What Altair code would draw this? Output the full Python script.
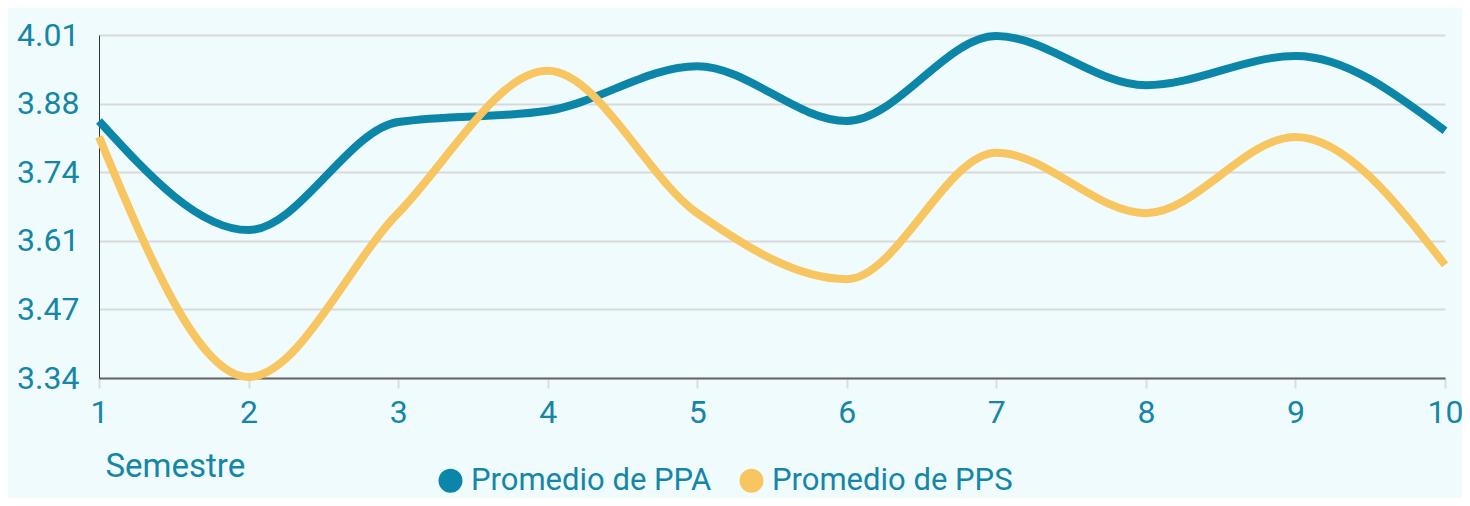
import altair as alt
import pandas as pd

semestres = [1, 2, 3, 4, 5, 6, 7, 8, 9, 10]
ppa = [3.842, 3.629, 3.840, 3.862, 3.949, 3.842, 4.008, 3.912, 3.969, 3.823]
pps = [3.811, 3.342, 3.662, 3.940, 3.662, 3.533, 3.780, 3.662, 3.811, 3.561]
series_names = ["Promedio de PPA", "Promedio de PPS"]
series_colors = ["#0b86a8", "#f7c660"]
y_ticks = [3.34, 3.474, 3.608, 3.742, 3.876, 4.01]

rows = []
for name, vals in zip(series_names, [ppa, pps]):
    for s, v in zip(semestres, vals):
        rows.append({"Semestre": s, "Valor": v, "Serie": name})
df = pd.DataFrame(rows)

teal = "#1586a6"
font = "Roboto"

chart = alt.Chart(df).mark_line(
    interpolate="monotone", strokeWidth=8, strokeCap="butt"
).encode(
    x=alt.X("Semestre:Q",
            scale=alt.Scale(domain=[1, 10], nice=False, zero=False),
            axis=alt.Axis(values=semestres, format="d", title="Semestre",
                          grid=False, domainColor="#666666", domainWidth=2,
                          tickColor="#dddddd", tickWidth=2, tickSize=10,
                          labelPadding=9, labelFontSize=32, labelColor=teal,
                          labelFont=font, labelFlush=False,
                          titleFont=font, titleFontSize=33, titleColor=teal,
                          titleFontWeight="normal", titleAlign="left",
                          titleAnchor="start", titleX=6, titleY=98,
                          titleBaseline="alphabetic")),
    y=alt.Y("Valor:Q",
            scale=alt.Scale(domain=[3.34, 4.01], nice=False, zero=False),
            axis=alt.Axis(values=y_ticks, format=".2f", title=None,
                          ticks=False, labelPadding=20, labelFontSize=32,
                          labelColor=teal, labelFont=font,
                          domainColor="#333333", domainWidth=1,
                          gridColor="#d9d9d9", gridWidth=2)),
    color=alt.Color("Serie:N",
                    scale=alt.Scale(domain=series_names, range=series_colors),
                    legend=alt.Legend(title=None, orient="none", legendX=336,
                                      legendY=430, direction="horizontal",
                                      symbolType="circle", symbolSize=144,
                                      symbolStrokeWidth=12, symbolOpacity=1,
                                      labelFontSize=31, labelFont=font,
                                      labelColor=teal, labelOffset=5,
                                      labelLimit=0, columnPadding=9)),
).properties(
    width=1346, height=343,
    background="#f0fbfd",
    padding={"left": 91, "top": 27, "right": 17, "bottom": 120},
    autosize=alt.AutoSizeParams(type="none"),
).configure_view(stroke=None)

chart.save("out.html", embed_options={"renderer": "svg", "actions": False})
